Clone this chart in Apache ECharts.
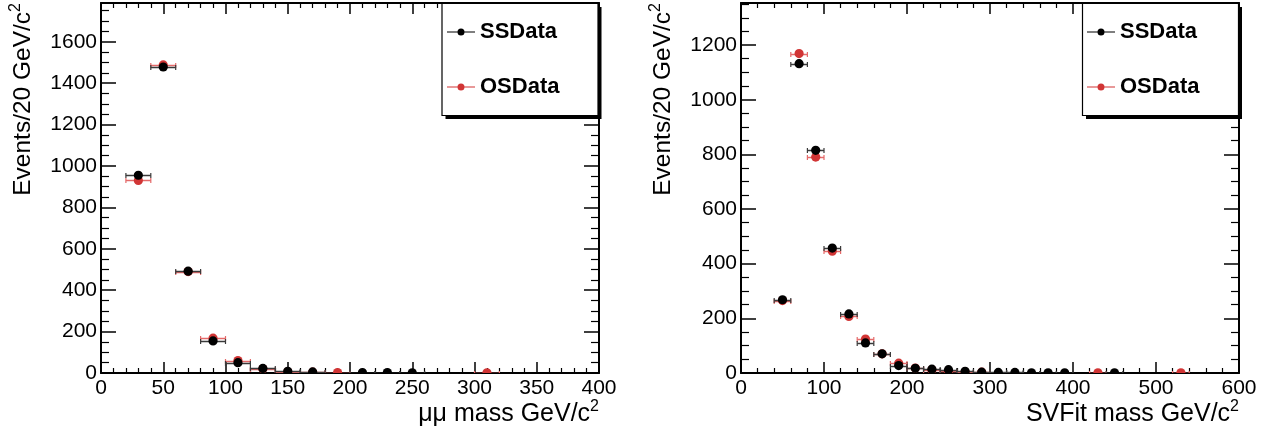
<!DOCTYPE html>
<html>
<head>
<meta charset="utf-8">
<script src="https://cdn.jsdelivr.net/npm/echarts@6/dist/echarts.min.js"></script>
<style>
html,body{margin:0;padding:0;background:#fff;}
#c{width:1271px;height:436px;}
</style>
</head>
<body>
<div id="c"></div>
<script>
// ---- data ----
const binWidth = 20;
// left panel: mu-mu mass
const mmSS_x = [30, 50, 70, 90, 110, 130, 150, 170, 210, 230, 250];
const mmSS_y = [955, 1478, 492, 155, 50, 22, 8, 5, 2, 2, 1];
const mmOS_x = [30, 50, 70, 90, 110, 130, 150, 170, 190, 310];
const mmOS_y = [930, 1488, 490, 168, 60, 20, 6, 4, 2, 1];
// right panel: SVFit mass
const svSS_x = [50, 70, 90, 110, 130, 150, 170, 190, 210, 230, 250, 270, 290, 310, 330, 350, 370, 390, 450];
const svSS_y = [268, 1132, 815, 457, 216, 110, 70, 27, 17, 14, 12, 6, 3, 2, 2, 1, 1, 1, 1];
const svOS_x = [50, 70, 90, 110, 130, 150, 170, 190, 210, 230, 250, 270, 290, 430, 530];
const svOS_y = [265, 1169, 790, 446, 207, 124, 70, 36, 18, 12, 6, 4, 3, 1, 1];
const seriesNames = ['SSData', 'OSData'];
const yTitle = 'Events/20 GeV/c';
const xTitles = ['μμ mass GeV/c', 'SVFit mass GeV/c'];

function pts(xs, ys) { return xs.map((x, i) => [x, ys[i]]); }

const BLACK = '#000000', RED = '#d13535';
const BAR = { [BLACK]: '#3a3a3a', [RED]: '#e46a6a' };

function renderItem(params, api) {
  const x = api.value(0), y = api.value(1);
  const p = api.coord([x, y]);
  const l = api.coord([x - binWidth / 2, y]);
  const r = api.coord([x + binWidth / 2, y]);
  const color = api.visual('color');
  const bar = BAR[color] || color;
  const yy = Math.round(p[1]) + 0.5;
  return {
    type: 'group',
    children: [
      { type: 'line', shape: { x1: l[0], y1: yy, x2: r[0], y2: yy }, style: { stroke: bar, lineWidth: 1.5 } },
      { type: 'line', shape: { x1: l[0], y1: yy - 2.5, x2: l[0], y2: yy + 2.5 }, style: { stroke: bar, lineWidth: 1.2 } },
      { type: 'line', shape: { x1: r[0], y1: yy - 2.5, x2: r[0], y2: yy + 2.5 }, style: { stroke: bar, lineWidth: 1.2 } },
      { type: 'circle', shape: { cx: p[0], cy: p[1], r: 4.6 }, style: { fill: color } }
    ]
  };
}

const FONT = 'Liberation Sans, Arial, Helvetica, sans-serif';
const tickLabel = { fontSize: 21, color: '#000', fontFamily: FONT, formatter: v => String(v) };
const axisLine = { show: true, onZero: false, lineStyle: { color: '#000', width: 2 } };

function xAxes(gi, max, interval, minorSplit, title) {
  return [
    {
      type: 'value', gridIndex: gi, min: 0, max: max, interval: interval, position: 'bottom',
      axisLine: axisLine,
      axisTick: { inside: true, length: 11, lineStyle: { color: '#000', width: 1.5 } },
      minorTick: { show: true, splitNumber: minorSplit, length: 5, lineStyle: { color: '#000', width: 1.2 } },
      splitLine: { show: false },
      axisLabel: Object.assign({ margin: 5 }, tickLabel),
      name: '{t|' + title + '}{s|2}',
      nameLocation: 'end', nameGap: 0, nameMoveOverlap: false,
      nameTextStyle: {
        align: 'right', verticalAlign: 'top', padding: [26, 0, 0, 0],
        rich: {
          t: { fontSize: 25, fontFamily: FONT, color: '#000', lineHeight: 28, verticalAlign: 'bottom' },
          s: { fontSize: 16, fontFamily: FONT, color: '#000', lineHeight: 28, verticalAlign: 'top' }
        }
      }
    },
    {
      type: 'value', gridIndex: gi, min: 0, max: max, interval: interval, position: 'top',
      axisLine: axisLine,
      axisTick: { inside: true, length: 11, lineStyle: { color: '#000', width: 1.5 } },
      minorTick: { show: true, splitNumber: minorSplit, length: 5, lineStyle: { color: '#000', width: 1.2 } },
      splitLine: { show: false }, axisLabel: { show: false }
    }
  ];
}

function yAxes(gi, max) {
  return [
    {
      type: 'value', gridIndex: gi, min: 0, max: max, interval: 200, position: 'left',
      axisLine: axisLine,
      axisTick: { inside: true, length: 15, lineStyle: { color: '#000', width: 1.5 } },
      minorTick: { show: true, splitNumber: 4, length: 8, lineStyle: { color: '#000', width: 1.2 } },
      splitLine: { show: false },
      axisLabel: Object.assign({ margin: 4, showMaxLabel: false }, tickLabel),
      name: '{t|' + yTitle + '}{s|2}',
      nameLocation: 'end', nameGap: 0, nameRotate: 90, nameMoveOverlap: false,
      nameTextStyle: {
        align: 'right', verticalAlign: 'bottom', padding: [0, 0, 65, 0],
        rich: {
          t: { fontSize: 24.5, fontFamily: FONT, color: '#000', lineHeight: 28, verticalAlign: 'bottom' },
          s: { fontSize: 16, fontFamily: FONT, color: '#000', lineHeight: 28, verticalAlign: 'top' }
        }
      }
    },
    {
      type: 'value', gridIndex: gi, min: 0, max: max, interval: 200, position: 'right',
      axisLine: axisLine,
      axisTick: { inside: true, length: 15, lineStyle: { color: '#000', width: 1.5 } },
      minorTick: { show: true, splitNumber: 4, length: 8, lineStyle: { color: '#000', width: 1.2 } },
      splitLine: { show: false }, axisLabel: { show: false }
    }
  ];
}

const ICON = 'path://M0,4 L28,4 L28,5 L0,5 Z M14,1 A3.5,3.5 0 1 1 14,8 A3.5,3.5 0 1 1 14,1 Z';

function legend(left) {
  return {
    data: seriesNames,
    orient: 'vertical', left: left, top: 3, z: 10,
    icon: ICON, itemWidth: 28, itemHeight: 9, itemGap: 33,
    padding: [18, 36, 16, 5],
    backgroundColor: 'transparent', borderWidth: 0,
    selectedMode: false,
    textStyle: { fontSize: 22, fontWeight: 'bold', fontFamily: FONT, color: '#000', lineHeight: 22 }
  };
}

function legendBox(x) {
  return [
    { type: 'rect', z: 5, shape: { x: x + 4, y: 7, width: 156, height: 112 }, style: { fill: '#000' } },
    { type: 'rect', z: 6, shape: { x: x + 0.5, y: 3.5, width: 156, height: 112 }, style: { fill: '#fff', stroke: '#000', lineWidth: 1.2 } }
  ];
}

function series(name, color, xi, yi, data) {
  return {
    type: 'custom', name: name, xAxisIndex: xi, yAxisIndex: yi,
    renderItem: renderItem, data: data, encode: { x: 0, y: 1 },
    itemStyle: { color: color }, clip: true, animation: false, z: color === BLACK ? 3 : 2
  };
}

const chart = echarts.init(document.getElementById('c'));
chart.setOption({
  animation: false,
  backgroundColor: '#fff',
  grid: [
    { left: 101, right: 672, top: 3, bottom: 63, outerBoundsMode: 'none' },
    { left: 741, right: 32, top: 3, bottom: 63, outerBoundsMode: 'none' }
  ],
  xAxis: [].concat(xAxes(0, 400, 50, 5, xTitles[0]), xAxes(1, 600, 100, 5, xTitles[1])),
  yAxis: [].concat(yAxes(0, 1787), yAxes(1, 1354)),
  legend: [legend(442), legend(1082)],
  graphic: [].concat(legendBox(441.5), legendBox(1082)),
  series: [
    series('OSData', RED, 0, 0, pts(mmOS_x, mmOS_y)),
    series('SSData', BLACK, 0, 0, pts(mmSS_x, mmSS_y)),
    series('OSData', RED, 2, 2, pts(svOS_x, svOS_y)),
    series('SSData', BLACK, 2, 2, pts(svSS_x, svSS_y))
  ]
});
</script>
</body>
</html>
